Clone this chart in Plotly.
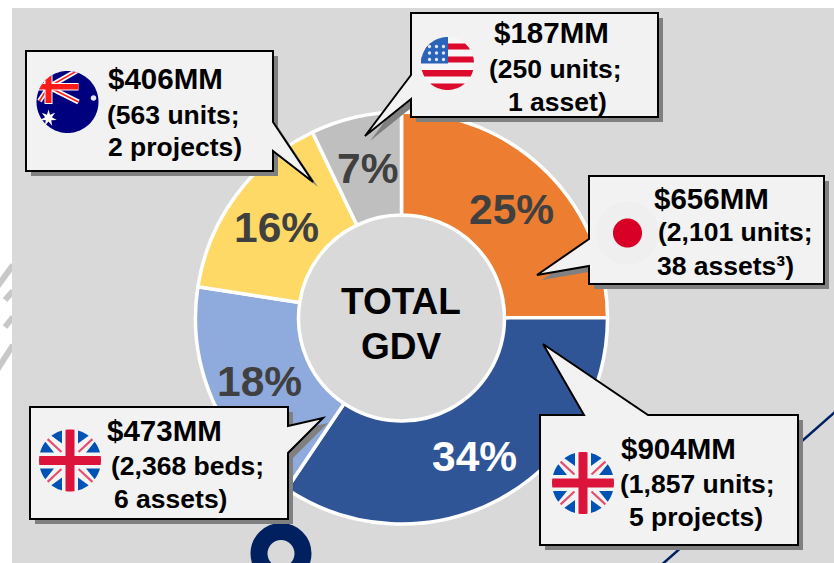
import math
import plotly.graph_objects as go

# ---- data ----
regions = ["Japan", "UK projects", "UK beds", "Australia", "USA"]
gdv_mm = [656, 904, 473, 406, 187]
pct_labels = ["25%", "34%", "18%", "16%", "7%"]
slice_colors = ["#ED7D31", "#2F5597", "#8FAADC", "#FFD966", "#BFBFBF"]
label_colors = ["#404040", "#FFFFFF", "#404040", "#404040", "#404040"]
center_lines = ["TOTAL", "GDV"]
callout_text = {
    "Australia": ["$406MM", "(563 units;", "2 projects)"],
    "USA": ["$187MM", "(250 units;", "1 asset)"],
    "Japan": ["$656MM", "(2,101 units;", "38 assets³)"],
    "UK beds": ["$473MM", "(2,368 beds;", "6 assets)"],
    "UK projects": ["$904MM", "(1,857 units;", "5 projects)"],
}

# ---- layout (pixels, y down) ----
W, H = 834, 563
FONT = "Liberation Sans, Arial, sans-serif"
PX, PY, PR = 401.5, 318, 206
callout_poly = {
    "Australia": [(26, 51), (273, 51), (273, 122), (313, 182), (273, 151), (273, 171), (26, 171)],
    "USA": [(411, 13), (658, 13), (658, 117), (411, 117), (411, 99), (365, 136), (411, 75)],
    "Japan": [(589, 176), (824, 176), (824, 284), (589, 284), (589, 266), (537, 275), (589, 239)],
    "UK beds": [(30, 407), (288, 407), (288, 426), (323, 418), (288, 453), (288, 519), (30, 519)],
    "UK projects": [(540, 415), (584, 415), (543, 344), (648, 415), (798, 415), (798, 545), (540, 545)],
}
text_pos = {
    "Australia": [(108, 78), (107, 115), (108, 147)],
    "USA": [(494, 32), (489, 69), (508, 102)],
    "Japan": [(654, 198), (658, 232), (657, 266)],
    "UK beds": [(107, 430), (111, 466), (114, 499)],
    "UK projects": [(621, 448), (620, 484), (629, 517)],
}
shapes = []


def path(pts):
    return "M" + " L".join(f"{x:.2f},{y:.2f}" for x, y in pts) + " Z"


def poly(pts, fill, line=None, lw=0):
    shapes.append(dict(type="path", path=path(pts), xref="x", yref="y", fillcolor=fill, layer="above",
                       line=dict(color=line or fill, width=lw)))


def circle_pts(cx, cy, r, n=96):
    return [(cx + r * math.cos(2 * math.pi * i / n), cy + r * math.sin(2 * math.pi * i / n)) for i in range(n)]


def clip(subject, cx, cy, r):
    ring = circle_pts(cx, cy, r)
    out = subject
    for i in range(len(ring)):
        a, b = ring[i], ring[(i + 1) % len(ring)]
        inside = lambda p: (b[0] - a[0]) * (p[1] - a[1]) - (b[1] - a[1]) * (p[0] - a[0]) >= 0
        cur, out = out, []
        for j in range(len(cur)):
            p, q = cur[j], cur[(j + 1) % len(cur)]
            ip, iq = inside(p), inside(q)
            if ip != iq:
                dx, dy = q[0] - p[0], q[1] - p[1]
                ex, ey = b[0] - a[0], b[1] - a[1]
                t = (ex * (a[1] - p[1]) - ey * (a[0] - p[0])) / (ex * dy - ey * dx)
                cross_pt = (p[0] + t * dx, p[1] + t * dy)
            if ip:
                out.append(p)
                if not iq:
                    out.append(cross_pt)
            elif iq:
                out.append(cross_pt)
        if not out:
            return []
    return out


def cpoly(pts, cx, cy, r, fill):
    c = clip([(cx + x, cy + y) for x, y in pts], cx, cy, r)
    if c:
        poly(c, fill)


def thick(p, q, w):
    dx, dy = q[0] - p[0], q[1] - p[1]
    n = math.hypot(dx, dy)
    ox, oy = -dy / n * w / 2, dx / n * w / 2
    return [(p[0] + ox, p[1] + oy), (q[0] + ox, q[1] + oy), (q[0] - ox, q[1] - oy), (p[0] - ox, p[1] - oy)]


def star(cx, cy, R, rr, n):
    return [(cx + (R if i % 2 == 0 else rr) * math.sin(math.pi * i / n),
             cy - (R if i % 2 == 0 else rr) * math.cos(math.pi * i / n)) for i in range(2 * n)]


def uk_flag(cx, cy, r=31):
    red, blue = "#DC143C", "#0052B4"
    poly(circle_pts(cx, cy, r), "#F4F4F4")
    for sx in (-1, 1):
        for sy in (-1, 1):
            cpoly([(sx * 8, sy * 34), (sx * 8, sy * 17), (sx * 23, sy * 28)], cx, cy, r, blue)
            cpoly([(sx * 34, sy * 8), (sx * 16, sy * 8), (sx * 28, sy * 23)], cx, cy, r, blue)
            cpoly(thick((sx * 8.5, sy * 8.5), (sx * 23, sy * 22), 2.2), cx, cy, r, "#E4506E")
    cpoly([(-4.5, -33), (4.5, -33), (4.5, 33), (-4.5, 33)], cx, cy, r, red)
    cpoly([(-33, -4.5), (33, -4.5), (33, 4.5), (-33, 4.5)], cx, cy, r, red)


def us_flag(cx, cy, r=26.5):
    red, blue = "#DC0A2D", "#2A63B8"
    poly(circle_pts(cx, cy, r), "#F7F7F7")
    for y0, y1 in [(-20, -14), (-7, -1), (6.5, 13), (20, 28)]:
        cpoly([(-28, y0), (28, y0), (28, y1), (-28, y1)], cx, cy, r, red)
    cpoly([(-28, -28), (0.5, -28), (0.5, 0), (-28, 0)], cx, cy, r, blue)
    for x in (-21, -14, -7):
        for y in (-20, -13.5, -7):
            poly(circle_pts(cx + x + 3, cy + y + 3, 1.7, 12), "#DDE6F5")


def au_flag(cx, cy, r=31):
    red, navy = "#FF1A1A", "#00007F"
    poly(circle_pts(cx, cy, r), navy)
    hub = (-19, -15)
    for end in [(9, -31), (11, 0), (-28, -1), (-24, -27)]:
        cpoly(thick(hub, end, 5), cx, cy, r, "#FFFFFF")
        cpoly(thick(hub, end, 1.6), cx, cy, r, red)
    cpoly([(-32, -19), (11, -19), (11, -11.5), (-32, -11.5)], cx, cy, r, "#FFFFFF")
    cpoly([(-23, -32), (-15, -32), (-15, 2), (-23, 2)], cx, cy, r, "#FFFFFF")
    cpoly([(-32, -18), (11, -18), (11, -12.5), (-32, -12.5)], cx, cy, r, red)
    cpoly([(-22, -32), (-16, -32), (-16, 1), (-22, 1)], cx, cy, r, red)
    poly(star(cx - 19, cy + 16, 8.5, 3.5, 7), "#FFFFFF")
    poly(circle_pts(cx + 26, cy - 4, 2.8, 16), "#E8E8F5")


def jp_flag(cx, cy):
    poly(circle_pts(cx, cy, 31.5), "#EFEFEF")
    poly(circle_pts(cx, cy, 14.5), "#D80027")


# white margin decoration, panel, backdrop lines
for a, b, w in [((-3, 287), (13, 265), 6), ((5, 300), (13, 291), 6), ((5, 327), (13, 317), 6), ((-3, 370), (13, 345), 6)]:
    shapes.append(dict(type="line", x0=a[0], y0=a[1], x1=b[0], y1=b[1], xref="x", yref="y", layer="below",
                       line=dict(color="#C8C8C8", width=w)))
shapes.append(dict(type="rect", x0=12, y0=8, x1=W, y1=H, xref="x", yref="y", layer="below",
                   fillcolor="#D9D9D9", line=dict(width=0)))
shapes.append(dict(type="line", x0=844, y0=404, x1=650, y1=575, xref="x", yref="y", layer="below",
                   line=dict(color="#002060", width=2.5)))
shapes.append(dict(type="circle", x0=259, y0=531.5, x1=303, y1=575.5, xref="x", yref="y", layer="below",
                   fillcolor="rgba(0,0,0,0)", line=dict(color="#002060", width=17)))

# callouts
SHADOW = 5
for name, pts in callout_poly.items():
    poly([(x + SHADOW, y + SHADOW) for x, y in pts], "#808080")
for name, pts in callout_poly.items():
    poly(pts, "#F2F2F2", "#000000", 2)

au_flag(67.5, 102)
us_flag(447.5, 63.5)
jp_flag(627.5, 233)
uk_flag(70, 460.5)
uk_flag(583, 483)

fig = go.Figure()
fig.add_trace(go.Pie(
    labels=regions, values=gdv_mm, textinfo="none", sort=False, direction="clockwise",
    rotation=0, hole=0.5, showlegend=False, hoverinfo="label+value",
    marker=dict(colors=slice_colors, line=dict(color="#FFFFFF", width=3.5)),
    domain=dict(x=[(PX - PR) / W, (PX + PR) / W], y=[1 - (PY + PR) / H, 1 - (PY - PR) / H]),
))

annotations = []
# percentage labels sit at the middle of each ring segment
total = sum(gdv_mm)
running = 0
for value, label, color in zip(gdv_mm, pct_labels, label_colors):
    mid = 2 * math.pi * (running + value / 2) / total
    running += value
    annotations.append(dict(x=PX + 155 * math.sin(mid), y=PY - 155 * math.cos(mid) + 1.5, text=label,
                            xref="x", yref="y", showarrow=False, xanchor="center", yanchor="middle",
                            font=dict(family=FONT, size=42.5, weight="bold", color=color)))
for line, y in zip(center_lines, (301, 346)):
    annotations.append(dict(x=401, y=y, text=line, xref="x", yref="y", showarrow=False, xanchor="center",
                            yanchor="middle", font=dict(family=FONT, size=37, weight="bold", color="#000000")))
for name, lines in callout_text.items():
    for i, (line, (x, y)) in enumerate(zip(lines, text_pos[name])):
        annotations.append(dict(x=x, y=y, text=line, xref="x", yref="y", showarrow=False, xanchor="left",
                                yanchor="middle", xshift=-1, borderpad=0,
                                font=dict(family=FONT, size=29.5 if i == 0 else 26.5, weight="bold", color="#000000")))

fig.update_layout(
    width=W, height=H, margin=dict(l=0, r=0, t=0, b=0), autosize=False,
    paper_bgcolor="#FFFFFF", plot_bgcolor="rgba(0,0,0,0)",
    xaxis=dict(range=[0, W], visible=False, fixedrange=True),
    yaxis=dict(range=[H, 0], visible=False, fixedrange=True),
    shapes=shapes, annotations=annotations,
)
fig.write_html("out.html", config={"displayModeBar": False},
               post_script="document.body.style.margin='0';document.body.style.overflow='hidden';")
